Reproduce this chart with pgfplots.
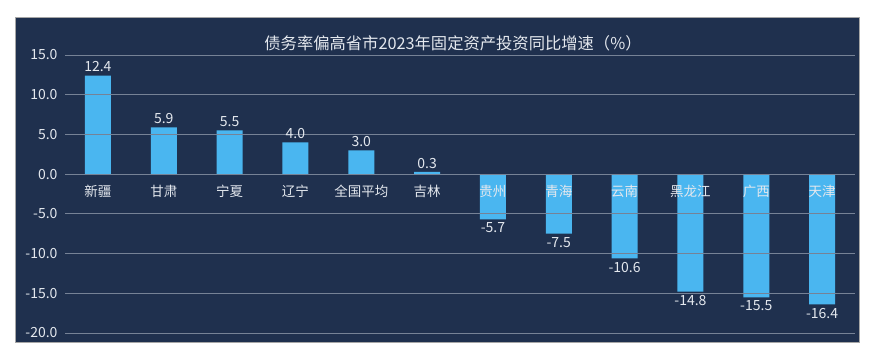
\documentclass[border=0pt]{standalone}
\usepackage{pgfplots}
\pgfplotsset{compat=1.18}
\usepackage{fontspec}
\setmainfont{Noto Sans CJK SC}
\definecolor{panel}{RGB}{31,48,78}
\definecolor{barc}{RGB}{74,182,240}
\definecolor{gridc}{RGB}{118,130,150}
\definecolor{txt}{RGB}{228,232,238}
\begin{document}
\begin{tikzpicture}[x=1pt,y=1pt]
\fill[white] (0,0) rectangle (878,356);
\filldraw[fill=panel,draw=gray!70,line width=0.8pt] (15,14) rectangle (859,339);
\node[text=txt,font=\fontsize{16.3}{18}\selectfont] at (453,313) {债务率偏高省市2023年固定资产投资同比增速（\%）};
\begin{axis}[
  at={(65pt,23pt)}, anchor=south west,
  scale only axis, width=790pt, height=278pt,
  xmin=-0.5, xmax=11.5, ymin=-20, ymax=15,
  axis on top,
  axis x line=middle, axis y line=left,
  x axis line style={draw=none}, y axis line style={draw=none},
  hide obscured x ticks=false, hide obscured y ticks=false,
  xtick=data,
  xticklabels={新疆,甘肃,宁夏,辽宁,全国平均,吉林,贵州,青海,云南,黑龙江,广西,天津},
  xticklabel style={text=txt,font=\fontsize{13.5}{15}\selectfont,yshift=-7pt},
  ytick={-20,-15,-10,-5,0,5,10,15},
  yticklabel style={xshift=-4pt,text=txt,font=\fontsize{14}{16}\selectfont},
  y tick label style={/pgf/number format/.cd,fixed,fixed zerofill,precision=1,assume math mode=true},
  major tick length=0pt,
  ymajorgrids, grid style={draw=gridc,line width=0.9pt},
  ybar, bar width=26pt,
  nodes near coords,
  nodes near coords style={text=txt,font=\fontsize{14}{16}\selectfont,
    /pgf/number format/.cd,fixed,fixed zerofill,precision=1,assume math mode=true},
]
\addplot[fill=barc,draw=none,bar shift=0pt] coordinates {
(0,12.4) (1,5.9) (2,5.5) (3,4.0) (4,3.0) (5,0.3)
(6,-5.7) (7,-7.5) (8,-10.6) (9,-14.8) (10,-15.5) (11,-16.4)};
\end{axis}
\end{tikzpicture}
\end{document}
